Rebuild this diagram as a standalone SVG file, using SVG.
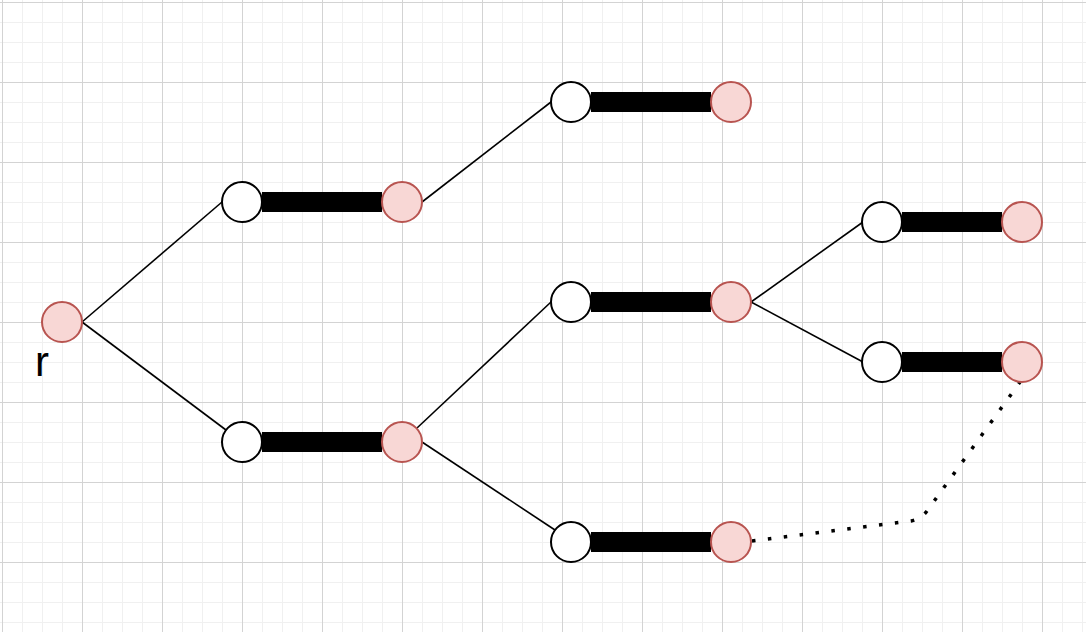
<svg xmlns="http://www.w3.org/2000/svg" width="1086" height="632" viewBox="0 0 1086 632">
  <defs>
    <pattern id="minor" x="2" y="2" width="20" height="20" patternUnits="userSpaceOnUse">
      <path d="M0 0.5 H20 M0.5 0 V20" fill="none" stroke="#f0f0f0" stroke-width="1"/>
    </pattern>
    <pattern id="major" x="2" y="2" width="80" height="80" patternUnits="userSpaceOnUse">
      <path d="M0 0.5 H80 M0.5 0 V80" fill="none" stroke="#d3d3d3" stroke-width="1"/>
    </pattern>
    <style>
      .w { fill: #ffffff; stroke: #000000; stroke-width: 2; }
      .r { fill: #f8d7d5; stroke: #b85450; stroke-width: 2; }
      .bar { fill: #000000; }
      .edge { stroke: #000000; stroke-width: 1.6; fill: none; }
      .dot { stroke: #000000; stroke-width: 3.5; fill: none; stroke-dasharray: 3.5 12.5; }
      .lbl { font-family: "Liberation Sans", Arial, sans-serif; font-size: 42px; fill: #000000; }
    </style>
  </defs>
  <rect x="0" y="0" width="1086" height="632" fill="#ffffff"/>
  <rect x="0" y="0" width="1086" height="632" fill="url(#minor)"/>
  <rect x="0" y="0" width="1086" height="632" fill="url(#major)"/>

  <g id="connectors">
    <line class="edge" x1="82" y1="322" x2="222" y2="202"/>
    <line class="edge" x1="82" y1="322" x2="226" y2="430"/>
    <line class="edge" x1="422" y1="202" x2="551" y2="102"/>
    <line class="edge" x1="417" y1="428" x2="551" y2="302"/>
    <line class="edge" x1="422" y1="442" x2="555" y2="530"/>
    <line class="edge" x1="751" y1="302" x2="863" y2="222"/>
    <line class="edge" x1="751" y1="302" x2="863" y2="362"/>
    <path class="dot" d="M752 541 L911 521 Q921 519 927 511 L1020 382"/>
  </g>

  <g id="root">
    <circle class="r" cx="62" cy="322" r="20"/>
    <text class="lbl" x="35" y="376">r</text>
  </g>

  <g id="pair1">
    <rect class="bar" x="262" y="192" width="120" height="20"/>
    <circle class="w" cx="242" cy="202" r="20"/>
    <circle class="r" cx="402" cy="202" r="20"/>
  </g>
  <g id="pair2">
    <rect class="bar" x="262" y="432" width="120" height="20"/>
    <circle class="w" cx="242" cy="442" r="20"/>
    <circle class="r" cx="402" cy="442" r="20"/>
  </g>
  <g id="pair3">
    <rect class="bar" x="591" y="92" width="120" height="20"/>
    <circle class="w" cx="571" cy="102" r="20"/>
    <circle class="r" cx="731" cy="102" r="20"/>
  </g>
  <g id="pair4">
    <rect class="bar" x="591" y="292" width="120" height="20"/>
    <circle class="w" cx="571" cy="302" r="20"/>
    <circle class="r" cx="731" cy="302" r="20"/>
  </g>
  <g id="pair5">
    <rect class="bar" x="591" y="532" width="120" height="20"/>
    <circle class="w" cx="571" cy="542" r="20"/>
    <circle class="r" cx="731" cy="542" r="20"/>
  </g>
  <g id="pair6">
    <rect class="bar" x="902" y="212" width="100" height="20"/>
    <circle class="w" cx="882" cy="222" r="20"/>
    <circle class="r" cx="1022" cy="222" r="20"/>
  </g>
  <g id="pair7">
    <rect class="bar" x="902" y="352" width="100" height="20"/>
    <circle class="w" cx="882" cy="362" r="20"/>
    <circle class="r" cx="1022" cy="362" r="20"/>
  </g>
</svg>
